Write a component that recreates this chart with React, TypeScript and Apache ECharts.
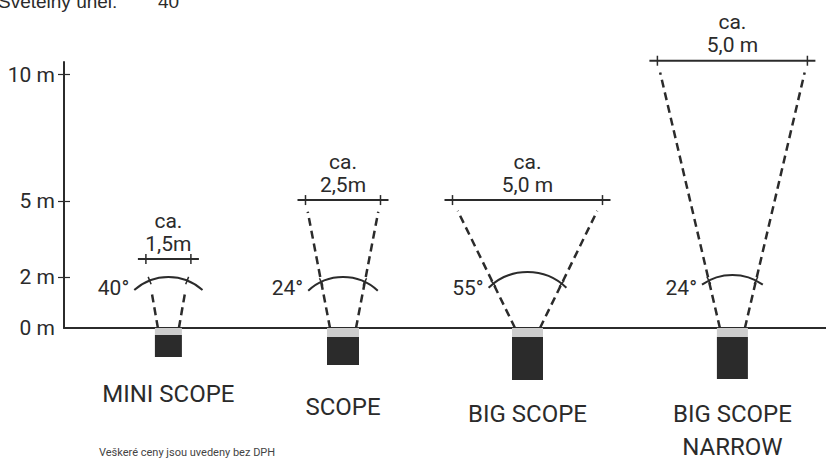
import React, { useEffect, useRef } from "react";
import * as echarts from "echarts";

// ---- data ----
const lampNames = ["MINI SCOPE", "SCOPE", "BIG SCOPE", "BIG SCOPE\nNARROW"];
const lampPositions = [3.48, 9.3, 15.45, 22.28]; // metres along the floor (schematic)
const beamAngles = [40, 24, 55, 24]; // degrees
const spotWidths = [1.5, 2.5, 5.0, 5.0]; // metres
const spotWidthLabels = ["1,5m", "2,5m", "5,0 m", "5,0 m"];
const spotHeights = [2.72, 5.05, 5.05, 10.55]; // metres (schematic)
const heightTicks = [0, 2, 5, 10];
const heightTickLabels = ["0 m", "2 m", "5 m", "10 m"];
const headerLabel = "Světelný úhel:";
const headerValue = "40°";
const footnote = "Veškeré ceny jsou uvedeny bez DPH";

// ---- styles ----
const ink = "#2b2b2b";
const lensColor = "#cdcdcd";
const font = "Roboto, 'Noto Sans', sans-serif";
const lampStyle = [
  { lensHalf: 13.5, lensH: 7, bodyH: 22, arcR: 51, arcHalf: 42, beamStop: "arc", nameDy: 37 },
  { lensHalf: 16, lensH: 9, bodyH: 28, arcR: 51, arcHalf: 43, beamStop: "bar", nameDy: 42 },
  { lensHalf: 15.5, lensH: 9, bodyH: 43, arcR: 56, arcHalf: 44, beamStop: "bar", nameDy: 34 },
  { lensHalf: 15.5, lensH: 9, bodyH: 42, arcR: 53, arcHalf: 35, beamStop: "bar", nameDy: 35 },
];
const nameLineGap = 33;

function renderLamp(params: any, api: any) {
  const i = params.dataIndex;
  const s = lampStyle[i];
  const pos = api.value(0);
  const h = api.value(1);
  const w = api.value(2);
  const [bx, by] = api.coord([pos, 0]);
  const [lx, ty] = api.coord([pos - w / 2, h]);
  const [rx] = api.coord([pos + w / 2, h]);
  const halfA = (s.arcHalf * Math.PI) / 180;
  const children: any[] = [];

  const beams = [
    [bx - s.lensHalf + 3, lx],
    [bx + s.lensHalf - 3, rx],
  ];
  for (const [x0, x1] of beams) {
    const dx = x1 - x0;
    const dy = ty - by;
    const len = Math.hypot(dx, dy);
    const ax = x0 - bx;
    const A = dx * dx + dy * dy;
    const B = 2 * ax * dx;
    const C = ax * ax - s.arcR * s.arcR;
    const t = (-B + Math.sqrt(B * B - 4 * A * C)) / (2 * A);
    const cx = x0 + t * dx;
    const cy = by + t * dy;
    const tEnd = s.beamStop === "arc" ? t - 12 / len : 1 - 12 / len;
    children.push({
      type: "line",
      shape: { x1: x0, y1: by, x2: x0 + tEnd * dx, y2: by + tEnd * dy },
      style: { stroke: ink, lineWidth: 2.5, lineDash: [8, 5], fill: "none" },
    });
    const ux = (cx - bx) / s.arcR;
    const uy = (cy - by) / s.arcR;
    children.push({
      type: "line",
      shape: { x1: cx - ux * 4, y1: cy - uy * 4, x2: cx + ux * 4, y2: cy + uy * 4 },
      style: { stroke: ink, lineWidth: 1.5, fill: "none" },
    });
  }

  children.push({
    type: "arc",
    shape: {
      cx: bx,
      cy: by,
      r: s.arcR,
      startAngle: -Math.PI / 2 - halfA,
      endAngle: -Math.PI / 2 + halfA,
      clockwise: true,
    },
    style: { stroke: ink, lineWidth: 2, fill: "none" },
  });

  // spot width bar
  children.push({
    type: "line",
    shape: { x1: lx - 8, y1: ty, x2: rx + 8, y2: ty },
    style: { stroke: ink, lineWidth: 2, fill: "none" },
  });
  for (const x of [lx, rx]) {
    children.push({
      type: "line",
      shape: { x1: x, y1: ty - 5, x2: x, y2: ty + 5 },
      style: { stroke: ink, lineWidth: 1.5, fill: "none" },
    });
  }
  children.push({
    type: "text",
    style: {
      text: "ca.\n" + spotWidthLabels[i],
      x: bx,
      y: ty - 4,
      align: "center",
      verticalAlign: "bottom",
      fontSize: 21,
      fontFamily: font,
      lineHeight: 23,
      fill: ink,
    },
  });

  // angle label
  children.push({
    type: "text",
    style: {
      text: beamAngles[i] + "°",
      x: bx - s.arcR * Math.sin(halfA) - 5,
      y: by - 40,
      align: "right",
      verticalAlign: "middle",
      fontSize: 21,
      fontFamily: font,
      fill: ink,
    },
  });

  // lamp body
  children.push({
    type: "rect",
    shape: { x: bx - s.lensHalf, y: by, width: 2 * s.lensHalf, height: s.lensH },
    style: { fill: lensColor },
  });
  children.push({
    type: "rect",
    shape: { x: bx - s.lensHalf, y: by + s.lensH, width: 2 * s.lensHalf, height: s.bodyH },
    style: { fill: ink },
  });

  // lamp name (one text element per line)
  const nameY = by + s.lensH + s.bodyH + s.nameDy;
  lampNames[i].split("\n").forEach((line, k) => {
    children.push({
      type: "text",
      style: {
        text: line,
        x: bx,
        y: nameY + k * nameLineGap,
        align: "center",
        verticalAlign: "middle",
        fontSize: 24,
        lineHeight: 24,
        fontFamily: font,
        fill: ink,
      },
    });
  });

  return { type: "group", children };
}

export default function App() {
  const ref = useRef<HTMLDivElement>(null);

  useEffect(() => {
    if (!ref.current) return;
    const chart = echarts.init(ref.current, null, { renderer: "svg" });
    const tickValues = heightTicks.filter((v) => v > 0);
    const labelFor = (v: number) => {
      const k = heightTicks.indexOf(v);
      return k >= 0 ? heightTickLabels[k] : "";
    };
    chart.setOption({
      animation: false,
      backgroundColor: "#ffffff",
      textStyle: { fontFamily: font },
      grid: { left: 64, right: 0, top: 62, bottom: 133, containLabel: false, outerBoundsMode: "none" },
      xAxis: {
        type: "value",
        min: 0,
        max: 25.4,
        axisLine: { show: true, onZero: false, lineStyle: { color: ink, width: 2 } },
        axisTick: { show: false },
        axisLabel: { show: false },
        splitLine: { show: false },
      },
      yAxis: [
        {
          type: "value",
          min: 0,
          max: 10.5,
          axisLine: { show: true, lineStyle: { color: ink, width: 2 } },
          axisTick: { show: true, customValues: tickValues, length: 6, lineStyle: { color: ink, width: 1.2 } },
          axisLabel: {
            show: true,
            customValues: heightTicks,
            formatter: (v: number) => labelFor(v),
            margin: 9,
            fontSize: 21,
            color: ink,
            fontFamily: font,
          },
          splitLine: { show: false },
        },
        {
          type: "value",
          min: 0,
          max: 10.5,
          position: "left",
          axisLine: { show: false },
          axisTick: { show: true, inside: true, customValues: tickValues, length: 6, lineStyle: { color: ink, width: 1.2 } },
          axisLabel: { show: false },
          splitLine: { show: false },
        },
      ],
      graphic: [
        {
          type: "text",
          x: -2,
          y: 1,
          style: {
            text: headerLabel,
            fontSize: 19,
            fontFamily: "'Liberation Sans', Arial, sans-serif",
            fill: ink,
            verticalAlign: "middle",
          },
        },
        {
          type: "text",
          x: 158,
          y: 1,
          style: {
            text: headerValue,
            fontSize: 19,
            fontFamily: "'Liberation Sans', Arial, sans-serif",
            fill: ink,
            verticalAlign: "middle",
          },
        },
        {
          type: "text",
          x: 99,
          y: 452,
          style: { text: footnote, fontSize: 11, fontFamily: font, fill: "#444", verticalAlign: "middle" },
        },
      ],
      series: [
        {
          type: "custom",
          clip: false,
          xAxisIndex: 0,
          yAxisIndex: 0,
          renderItem: renderLamp,
          data: lampNames.map((_, i) => [lampPositions[i], spotHeights[i], spotWidths[i]]),
        },
      ],
    });
    return () => chart.dispose();
  }, []);

  return (
    <div
      ref={ref}
      style={{ position: "fixed", left: 0, top: 0, width: 826, height: 461, background: "#fff" }}
    />
  );
}
